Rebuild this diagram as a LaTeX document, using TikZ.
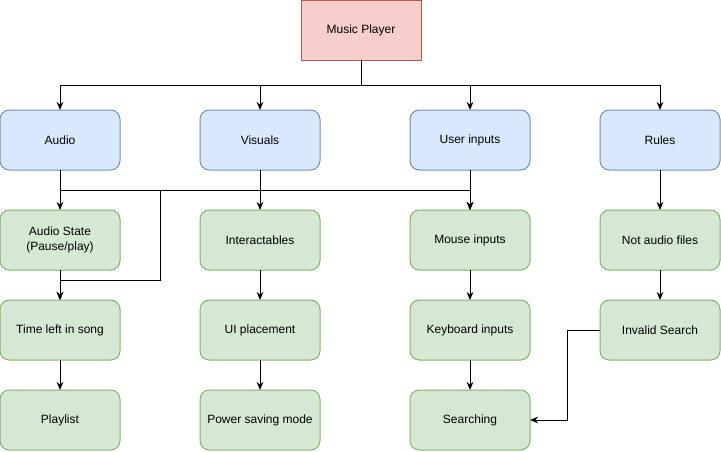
\documentclass[tikz,border=0pt]{standalone}
\usepackage{fontspec}
\setmainfont{Liberation Sans}
\usetikzlibrary{arrows.meta}
\definecolor{redfill}{HTML}{F8CECC}
\definecolor{redline}{HTML}{B85450}
\definecolor{bluefill}{HTML}{DAE8FC}
\definecolor{blueline}{HTML}{6C8EBF}
\definecolor{greenfill}{HTML}{D5E8D4}
\definecolor{greenline}{HTML}{82B366}

\begin{document}
\begin{tikzpicture}[x=0.75pt,y=-0.75pt,inner sep=0pt,outer sep=0pt,line width=0.75pt,
font=\fontsize{9}{11}\selectfont,>={Stealth[length=6pt,width=5pt]},
rootblock/.style={draw=redline,fill=redfill,rectangle,minimum width=90pt,minimum height=45pt},
partblock/.style={draw=blueline,fill=bluefill,rectangle,rounded corners=7pt,minimum width=90pt,minimum height=45pt},
itemblock/.style={draw=greenline,fill=greenfill,rectangle,rounded corners=7pt,minimum width=90pt,minimum height=45pt,align=center}]

\useasboundingbox (0,0) rectangle (721,451);

\draw (361,30) node[rootblock] (mp) {Music Player};

\draw (60,140) node[partblock] (audio) {Audio};
\draw (260,140) node[partblock] (visuals) {Visuals};
\draw (470,140) node[partblock] (userin) {User inputs};
\draw (660,140) node[partblock] (rules) {Rules};

\draw (60,240) node[itemblock] (astate) {Audio State\\(Pause/play)};
\draw (60,330) node[itemblock] (timeleft) {Time left in song};
\draw (60,420) node[itemblock] (playlist) {Playlist};
\draw (260,240) node[itemblock] (interact) {Interactables};
\draw (260,330) node[itemblock] (uiplace) {UI placement};
\draw (260,420) node[itemblock] (powersave) {Power saving mode};
\draw (470,240) node[itemblock] (mouse) {Mouse inputs};
\draw (470,330) node[itemblock] (keyboard) {Keyboard inputs};
\draw (470,420) node[itemblock] (searching) {Searching};
\draw (660,240) node[itemblock] (notaudio) {Not audio files};
\draw (660,330) node[itemblock] (invalid) {Invalid Search};

\coordinate (bend) at (160,280);

\draw[->] (mp.south) -- ++(0,25) -| (audio.north);
\draw[->] (mp.south) -- ++(0,25) -| (visuals.north);
\draw[->] (mp.south) -- ++(0,25) -| (userin.north);
\draw[->] (mp.south) -- ++(0,25) -| (rules.north);

\draw[->] (audio.south) -- (astate.north);
\draw[->] (audio.south) -- ++(0,20) -| (mouse.north);
\draw[->] (userin.south) -- ++(0,20) -| (bend) -| (timeleft.north);
\draw[->] (astate.south) -- (timeleft.north);
\draw[->] (timeleft.south) -- (playlist.north);

\draw[->] (visuals.south) -- (interact.north);
\draw[->] (interact.south) -- (uiplace.north);
\draw[->] (uiplace.south) -- (powersave.north);

\draw[->] (userin.south) -- (mouse.north);
\draw[->] (mouse.south) -- (keyboard.north);
\draw[->] (keyboard.south) -- (searching.north);

\draw[->] (rules.south) -- (notaudio.north);
\draw[->] (notaudio.south) -- (invalid.north);
\draw[->] (invalid.west) -- ++(-33,0) |- (searching.east);
\end{tikzpicture}
\end{document}
